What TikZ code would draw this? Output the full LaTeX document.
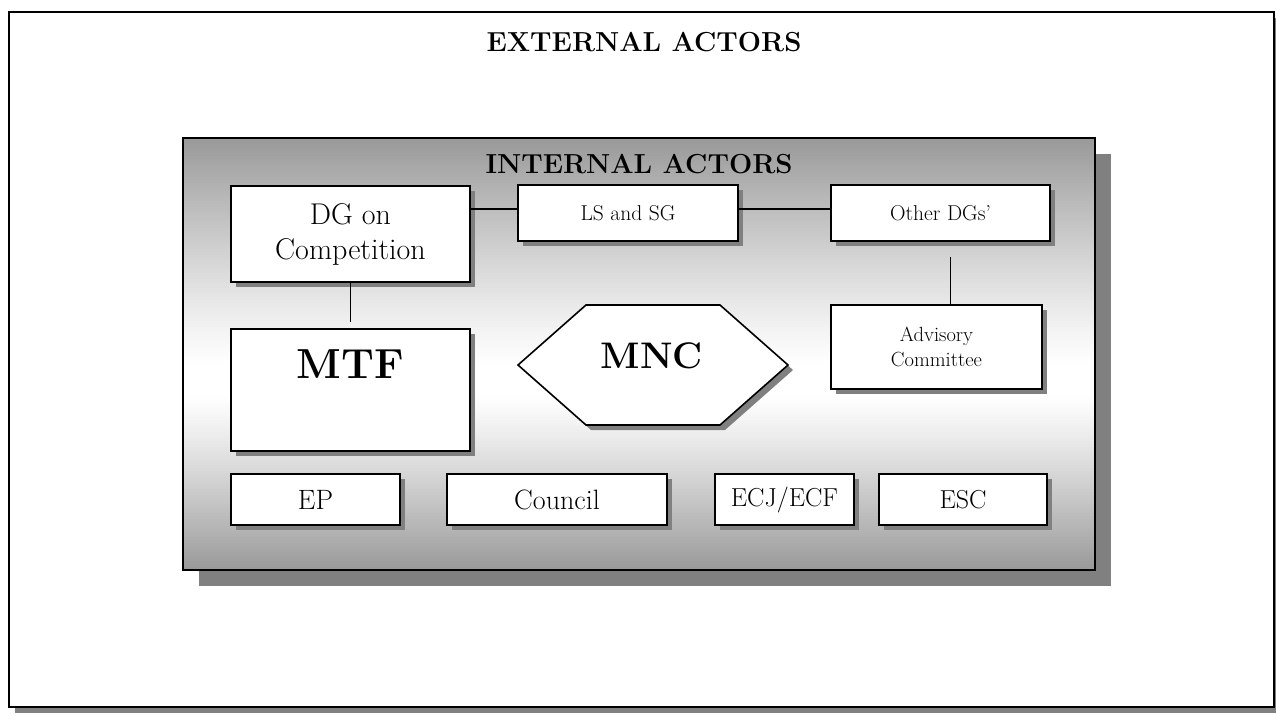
\documentclass[tikz,border=0pt]{standalone}
\usepackage{fontspec}
\usetikzlibrary{shadows}
\definecolor{shadowgray}{HTML}{808080}
\definecolor{panelgray}{HTML}{999999}
\begin{document}
\begin{tikzpicture}[x=1pt,y=-1pt,
  frame/.style={draw=black,line width=1.6pt},
  actor/.style={frame,fill=white,rectangle,inner sep=0pt,align=center,
    drop shadow={shadow xshift=5pt,shadow yshift=-5pt,fill=shadowgray,opacity=1}},
  link/.style={draw=black,line width=1.5pt},
  heading/.style={font=\fontsize{27.5}{32}\selectfont\bfseries},
]
\useasboundingbox (0,0) rectangle (1276,715);

% outer frame: external actors
\fill[shadowgray] (15,18) rectangle (1280,713);
\draw[frame,fill=white] (9,12) rectangle (1274,707);
\node[heading] (ext) at (644,42) {EXTERNAL ACTORS};

% inner panel: internal actors, grey fading to a white band and back
\fill[shadowgray] (199,154) rectangle (1111,586);
\foreach \y in {138,141,...,567}{
  \pgfmathsetmacro{\c}{\y+1.5}
  \pgfmathsetmacro{\dtop}{max(365-\c,0)/227}
  \pgfmathsetmacro{\dbot}{max(\c-395,0)/175}
  \pgfmathsetmacro{\t}{min(100*(\dtop+\dbot+0.0001)^1.15,100)}
  \fill[panelgray!\t!white] (183,\y) rectangle (1095,\y+3.6);
}
\draw[frame] (183,138) rectangle (1095,570);
\node[heading] (int) at (639,164) {INTERNAL ACTORS};

% top row
\node[actor,minimum width=239pt,minimum height=96pt,
  font=\fontsize{30}{35}\selectfont] (dg) at (350.5,234) {DG on\\Competition};
\node[actor,minimum width=220pt,minimum height=56pt,
  font=\fontsize{21.5}{25}\selectfont] (ls) at (628,213) {LS and SG};
\node[actor,minimum width=219pt,minimum height=56pt,
  font=\fontsize{21.5}{25}\selectfont] (od) at (940.5,213) {Other DGs'};

% middle row
\node[actor,minimum width=239pt,minimum height=122pt,
  label={[anchor=north,yshift=-18pt,font=\fontsize{42}{46}\selectfont\bfseries]north:MTF}]
  (mtf) at (350.5,390) {};
\node[actor,minimum width=211pt,minimum height=84pt,
  font=\fontsize{20.5}{25}\selectfont] (adv) at (936.5,347) {Advisory\\Committee};

% the multinational company
\draw[frame,fill=white,
  drop shadow={shadow xshift=5pt,shadow yshift=-5pt,fill=shadowgray,opacity=1}]
  (518,365) -- (586,305) -- (720,305) -- (788,365) -- (720,425) -- (586,425) -- cycle;
\node[font=\fontsize{37}{42}\selectfont\bfseries] (mnc) at (652,356) {MNC};

% bottom row
\node[actor,minimum width=169pt,minimum height=51pt,
  font=\fontsize{28}{32}\selectfont] (ep) at (315.5,499.5) {EP};
\node[actor,minimum width=220pt,minimum height=51pt,
  font=\fontsize{28}{32}\selectfont] (council) at (557,499.5) {Council};
\node[actor,minimum width=139pt,minimum height=51pt,
  font=\fontsize{26}{30}\selectfont] (ecj) at (784.5,499.5) {ECJ/ECF};
\node[actor,minimum width=168pt,minimum height=51pt,
  font=\fontsize{26}{30}\selectfont] (esc) at (963,499.5) {ESC};

% links
\draw[link] ([yshift=4pt]dg.east |- ls.west) -- ([yshift=4pt]ls.west);
\draw[link] ([yshift=4pt]ls.east) -- ([yshift=4pt]od.west);
\draw[link,shorten >=6pt] (dg.south) -- (mtf.north);
\coordinate (odfoot) at ([xshift=10pt]od.south);
\draw[link,shorten <=15pt] (odfoot) -- (odfoot |- adv.north);
\end{tikzpicture}
\end{document}
